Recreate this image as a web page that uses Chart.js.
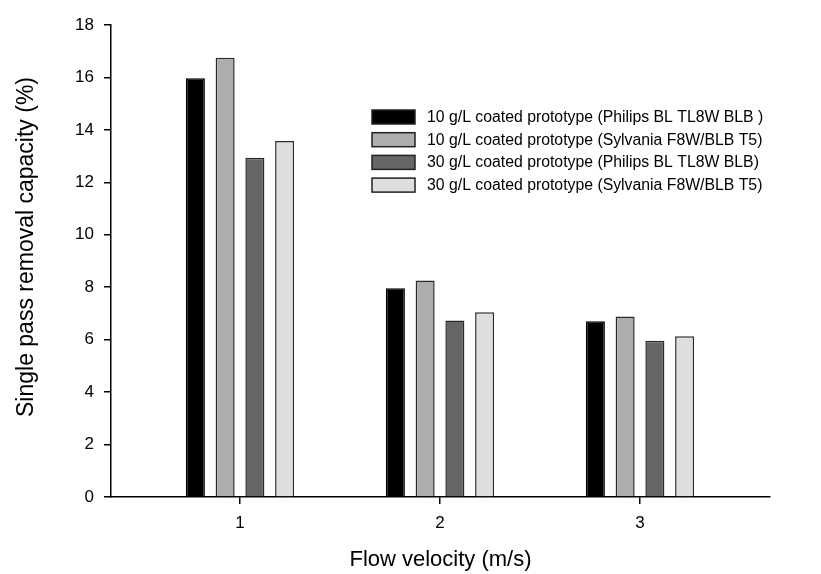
<!DOCTYPE html>
<html>
<head>
<meta charset="utf-8">
<script src="https://cdn.jsdelivr.net/npm/chart.js@4.4.1/dist/chart.umd.min.js"></script>
<style>
  html, body { margin: 0; padding: 0; background: #fff; }
</style>
</head>
<body>
<canvas id="grafico" width="821" height="574"></canvas>
<script>
const velocidades = [1, 2, 3];
const etiquetasX = ["1", "2", "3"];

// valores (%)
const philips10 = [15.97, 7.96, 6.70];
const sylvania10 = [16.75, 8.26, 6.88];
const philips30 = [12.94, 6.73, 5.96];
const sylvania30 = [13.58, 7.05, 6.13];

const nombres = [
  "10 g/L coated prototype (Philips BL TL8W BLB )",
  "10 g/L coated prototype (Sylvania F8W/BLB T5)",
  "30 g/L coated prototype (Philips BL TL8W BLB)",
  "30 g/L coated prototype (Sylvania F8W/BLB T5)"
];
const colores = ["#000000", "#adadad", "#666666", "#dedede"];
const tituloY = "Single pass removal capacity (%)";

const FUENTE = 'Arial, "Liberation Sans", sans-serif';

function serie(valores) {
  return velocidades.map((v, i) => ({ x: v, y: valores[i] }));
}

// Leyenda dentro del area del grafico y titulo del eje Y
const extras = {
  id: "extras",
  afterDraw(chart) {
    const ctx = chart.ctx;
    ctx.save();
    chart.data.datasets.forEach((ds, i) => {
      const y = 110 + i * 22.7;
      ctx.fillStyle = ds.backgroundColor;
      ctx.fillRect(372, y, 43, 14);
      ctx.strokeStyle = "#222";
      ctx.lineWidth = 1.5;
      ctx.strokeRect(372, y, 43, 14);
      ctx.fillStyle = "#000";
      ctx.font = "15.8px " + FUENTE;
      ctx.textBaseline = "middle";
      ctx.fillText(ds.label, 427, y + 7.5);
    });

    ctx.translate(27, 247);
    ctx.rotate(-Math.PI / 2);
    ctx.font = "23px " + FUENTE;
    ctx.textAlign = "center";
    ctx.textBaseline = "middle";
    ctx.fillText(tituloY, 0, 0);
    ctx.restore();
  }
};

const datos = [philips10, sylvania10, philips30, sylvania30];

new Chart(document.getElementById("grafico"), {
  type: "bar",
  data: {
    datasets: datos.map((d, i) => ({
      label: nombres[i],
      data: serie(d),
      backgroundColor: colores[i],
      borderColor: i === 0 ? "#000" : "#2a2a2a",
      borderWidth: 1.5,
      categoryPercentage: 0.595,
      barPercentage: 0.64
    }))
  },
  options: {
    responsive: false,
    animation: false,
    layout: { padding: { left: 0, right: 51, top: 25, bottom: 0 } },
    plugins: {
      legend: { display: false },
      tooltip: { enabled: false }
    },
    scales: {
      x: {
        type: "linear",
        offset: false,
        min: 0.355,
        max: 3.65,
        afterBuildTicks: (s) => { s.ticks = velocidades.map(v => ({ value: v })); },
        afterFit: (s) => { s.height = 77; },
        ticks: {
          callback: (v, i) => etiquetasX[i],
          color: "#000",
          font: { family: FUENTE, size: 17 },
          padding: 9
        },
        grid: { offset: false, drawOnChartArea: false, drawTicks: true, tickLength: 7, color: "#000", lineWidth: 1.5 },
        border: { display: true, color: "#000", width: 1.5 },
        title: {
          display: true,
          text: "Flow velocity (m/s)",
          color: "#000",
          font: { family: FUENTE, size: 22 },
          padding: { top: 0, bottom: 1 }
        }
      },
      y: {
        min: 0,
        max: 18,
        afterFit: (s) => { s.width = 111; },
        ticks: {
          stepSize: 2,
          color: "#000",
          font: { family: FUENTE, size: 17 },
          padding: 10
        },
        grid: { drawOnChartArea: false, drawTicks: true, tickLength: 7, color: "#000", lineWidth: 1.5 },
        border: { display: true, color: "#000", width: 1.5 },
        title: { display: false }
      }
    }
  },
  plugins: [extras]
});
</script>
</body>
</html>
